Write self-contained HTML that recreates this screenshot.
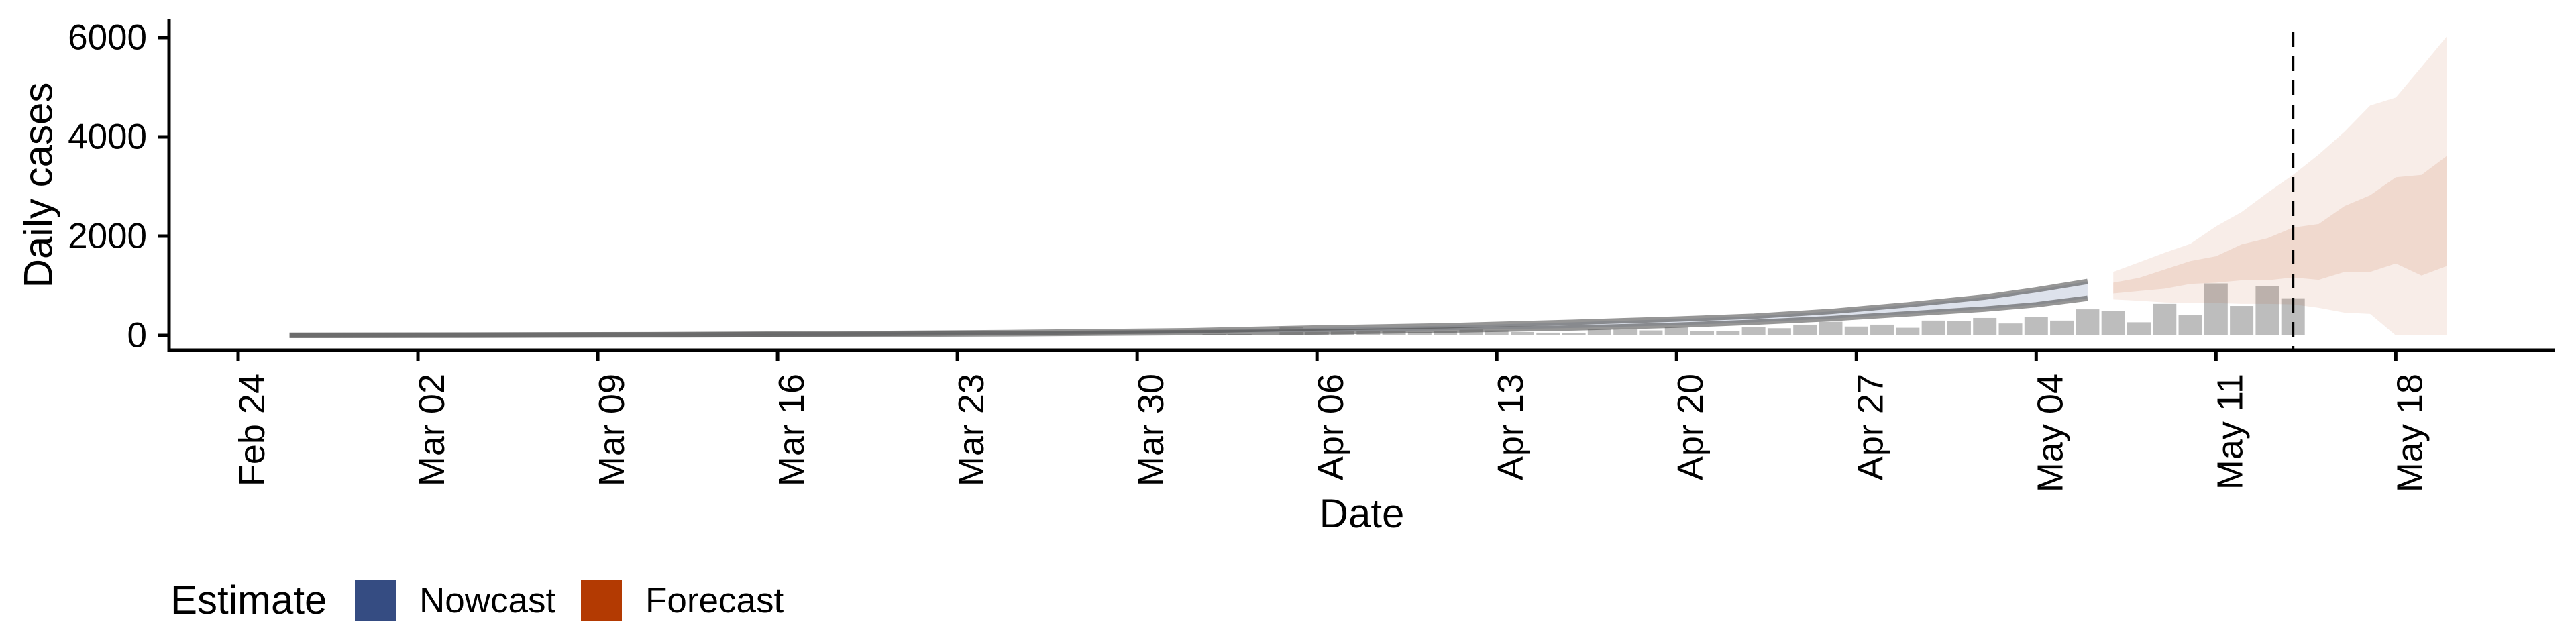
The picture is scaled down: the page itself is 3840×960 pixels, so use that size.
<!DOCTYPE html>
<html><head><meta charset="utf-8"><style>
html,body{margin:0;padding:0;background:#fff;}
svg{display:block;font-family:"Liberation Sans",sans-serif;}
</style></head><body>
<svg id="chart" width="3840" height="960" viewBox="0 0 3840 960" xmlns="http://www.w3.org/2000/svg">
<g id="plot"></g>
<g id="axes"></g>
<text x="57" y="276" font-size="60" text-anchor="middle" dominant-baseline="central" transform="rotate(-90 57 276)">Daily cases</text>
<text x="2030" y="786" font-size="60" text-anchor="middle">Date</text>
<g>
<text x="254" y="915" font-size="60">Estimate</text>
<rect x="529" y="864" width="61" height="62" fill="#354c82"/>
<text x="625" y="913" font-size="53">Nowcast</text>
<rect x="866" y="864" width="61" height="62" fill="#b33a02"/>
<text x="962" y="913" font-size="53">Forecast</text>
</g>
</svg>
<script>
// Day index 0 = Feb 24
const tickDays = [0,7,14,21,28,35,42,49,56,63,70,77,84];
const tickLabels = ["Feb 24","Mar 02","Mar 09","Mar 16","Mar 23","Mar 30","Apr 06","Apr 13","Apr 20","Apr 27","May 04","May 11","May 18"];
const yTicks = [0,2000,4000,6000];
const barDays = [36,37,38,39,40,41,42,43,44,45,46,47,48,49,50,51,52,53,54,55,56,57,58,59,60,61,62,63,64,65,66,67,68,69,70,71,72,73,74,75,76,77,78,79,80];
const barValues = [14,14,27,27,0,160,69,92,82,115,69,82,160,101,69,55,41,128,137,101,170,82,82,169,145,217,275,179,217,154,299,290,352,241,367,299,526,487,265,637,405,1047,594,989,748];
const nowDays = [2,9,16,23,30,37,42,47,52,56,59,62,65,68,70,72];
const nowUpper = [4,8,15,32,58,95,150,195,265,330,386,483,618,772,917,1086];
const nowLower = [2,4,9,18,32,55,69,105,150,205,265,338,434,531,618,748];
const fcDays = [73,74,75,76,77,78,79,80,81,82,83,84,85,86];
const fcOuterUpper = [1279,1472,1665,1844,2196,2486,2872,3234,3644,4102,4633,4792,5405,6033];
const fcInnerUpper = [1062,1158,1327,1496,1593,1834,1955,2172,2244,2606,2823,3185,3234,3620];
const fcInnerLower = [845,893,941,1038,1062,1110,1110,1168,1120,1279,1279,1448,1207,1400];
const fcOuterLower = [724,700,666,652,652,637,637,627,555,459,434,0,0,0];
const reportDay = 80;

const NS = "http://www.w3.org/2000/svg";
const X0 = 355, PX_DAY = 38.29;
const Y0 = 500, PX_CASE = 0.074;
const xs = d => X0 + d * PX_DAY;
const ys = v => Y0 - v * PX_CASE;
const plot = document.getElementById('plot');
const axes = document.getElementById('axes');
function mk(tag, attrs, parent) {
  const e = document.createElementNS(NS, tag);
  for (const k in attrs) e.setAttribute(k, attrs[k]);
  parent.appendChild(e);
  return e;
}
function bandPath(days, up, lo) {
  let d = '';
  days.forEach((dd, i) => { d += (i ? 'L' : 'M') + xs(dd).toFixed(1) + ',' + ys(up[i]).toFixed(1); });
  for (let i = days.length - 1; i >= 0; i--) d += 'L' + xs(days[i]).toFixed(1) + ',' + ys(lo[i]).toFixed(1);
  return d + 'Z';
}
function linePath(days, v) {
  return days.map((dd, i) => (i ? 'L' : 'M') + xs(dd).toFixed(1) + ',' + ys(v[i]).toFixed(1)).join('');
}
// bars
barDays.forEach((d, i) => {
  const h = barValues[i] * PX_CASE;
  const b = mk('rect', {x: xs(d) - 17.5, y: Y0 - h, width: 35, height: h, fill: '#bdbdbd'}, plot);
  
  
});
// nowcast band
const nb = mk('path', {d: bandPath(nowDays, nowUpper, nowLower), fill: '#dde2ec', stroke: 'none'}, plot);


const nu = mk('path', {d: linePath(nowDays, nowUpper), fill: 'none', stroke: 'rgba(80,80,80,0.6)', 'stroke-width': 8}, plot);


const nl = mk('path', {d: linePath(nowDays, nowLower), fill: 'none', stroke: 'rgba(80,80,80,0.6)', 'stroke-width': 8}, plot);


// forecast bands
const fo = mk('path', {d: bandPath(fcDays, fcOuterUpper, fcOuterLower), fill: 'rgba(179,58,2,0.09)'}, plot);


const fi = mk('path', {d: bandPath(fcDays, fcInnerUpper, fcInnerLower), fill: 'rgba(179,58,2,0.11)'}, plot);


// report date line
const dl = mk('line', {x1: xs(reportDay), x2: xs(reportDay), y1: 48, y2: 522, stroke: '#000', 'stroke-width': 4, 'stroke-dasharray': '22 14'}, plot);


// axes
const ya = mk('line', {x1: 252, x2: 252, y1: 29, y2: 524, stroke: '#000', 'stroke-width': 5}, axes);


const xa = mk('line', {x1: 250, x2: 3808, y1: 522, y2: 522, stroke: '#000', 'stroke-width': 5}, axes);


yTicks.forEach(v => {
  const t = mk('line', {x1: 236, x2: 252, y1: ys(v), y2: ys(v), stroke: '#000', 'stroke-width': 5}, axes);
  
  
  const l = mk('text', {x: 219, y: ys(v), 'font-size': 53, 'text-anchor': 'end', 'dominant-baseline': 'central'}, axes);
  l.textContent = String(v);
  
  
});
tickDays.forEach((d, i) => {
  const x = xs(d);
  const t = mk('line', {x1: x, x2: x, y1: 522, y2: 538, stroke: '#000', 'stroke-width': 5}, axes);
  
  
  const bx = x + 39, by = 557;
  const l = mk('text', {x: bx, y: by, 'font-size': 54, 'text-anchor': 'end', transform: 'rotate(-90 ' + bx + ' ' + by + ')'}, axes);
  l.textContent = tickLabels[i];
  
  
});
</script>
</body></html>
